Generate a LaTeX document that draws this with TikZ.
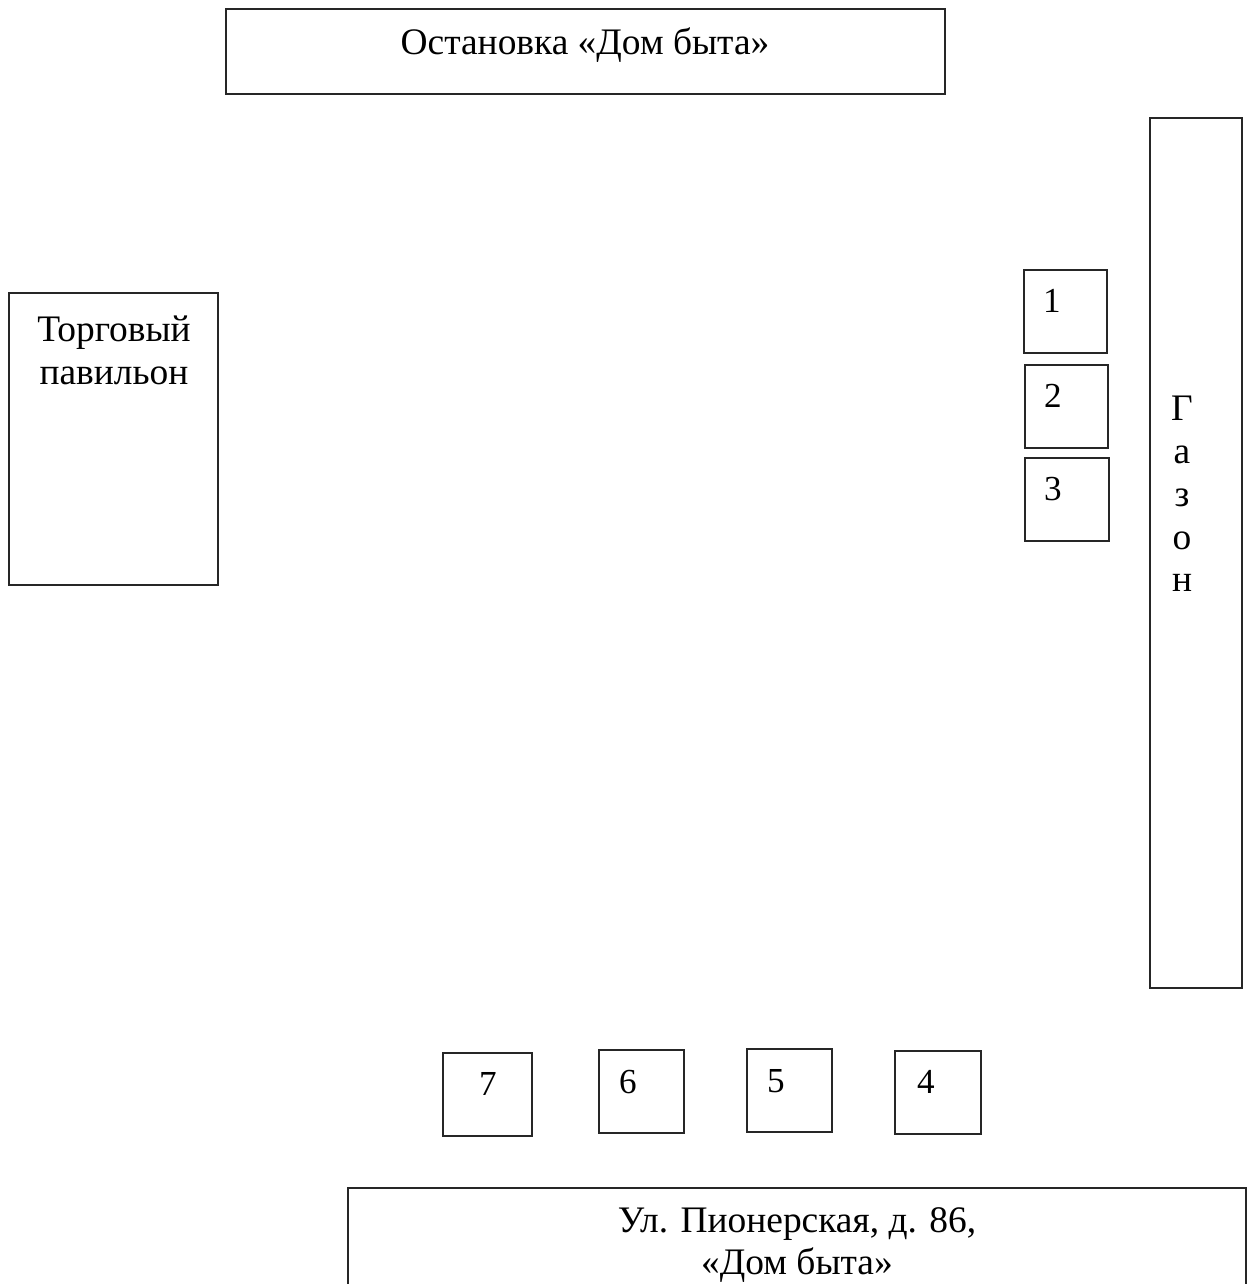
\documentclass[tikz,border=0pt]{standalone}
\usepackage{fontspec}
\setmainfont{Liberation Serif}
\usepackage{tikz}
\usetikzlibrary{calc,fit}
\tikzset{
   plan/.style={draw=black!85, line width=0.9pt},
   lot/.style={plan, inner sep=0pt},
}

\begin{document}
\begin{tikzpicture}[x=0.02cm,y=-0.02cm,
                    caption/.style={font=\fontsize{21.3}{24.4}\selectfont, align=center, inner sep=0pt},
                    num/.style={font=\fontsize{20}{22}\selectfont, inner sep=0pt}]
\useasboundingbox (0,0) rectangle (1252,1284);
\clip (0,0) rectangle (1252,1284);
% buildings round the yard
\node[lot, fit={(226,9) (945,94)}]     (stop)     {};
\node[lot, fit={(9,293) (218,585)}]    (pavilion) {};
\node[lot, fit={(1150,118) (1242,988)}] (lawn)    {};
\node[lot, fit={(348,1188) (1246,1300)}] (house)  {};
%
\node[caption] (stoptext) at (585,45)   {Остановка «Дом быта»};
\node[caption] (pavtext)  at (114,350)  {Торговый\\павильон};
\node[caption] (lawntext) at (1182,494) {Г\\а\\з\\о\\н};
\node[caption] (housetext) at (797,1245) {Ул. Пионерская, д. 86,\\«Дом быта»};
%
% numbered places
\node[lot, fit={(1024,270) (1107,353)}] (p1) {};
\node[lot, fit={(1025,365) (1108,448)}] (p2) {};
\node[lot, fit={(1025,458) (1109,541)}] (p3) {};
\node[lot, fit={(895,1051) (981,1134)}] (p4) {};
\node[lot, fit={(747,1049) (832,1132)}] (p5) {};
\node[lot, fit={(599,1050) (684,1133)}] (p6) {};
\node[lot, fit={(443,1053) (532,1136)}] (p7) {};
%
\node[num] (n1) at (1052,301)  {1};
\node[num] (n2) at (1053,396)  {2};
\node[num] (n3) at (1053,489)  {3};
\node[num] (n4) at (926,1082)  {4};
\node[num] (n5) at (776,1081)  {5};
\node[num] (n6) at (628,1082)  {6};
\node[num] (n7) at (488,1084)  {7};
\end{tikzpicture}
\end{document}
